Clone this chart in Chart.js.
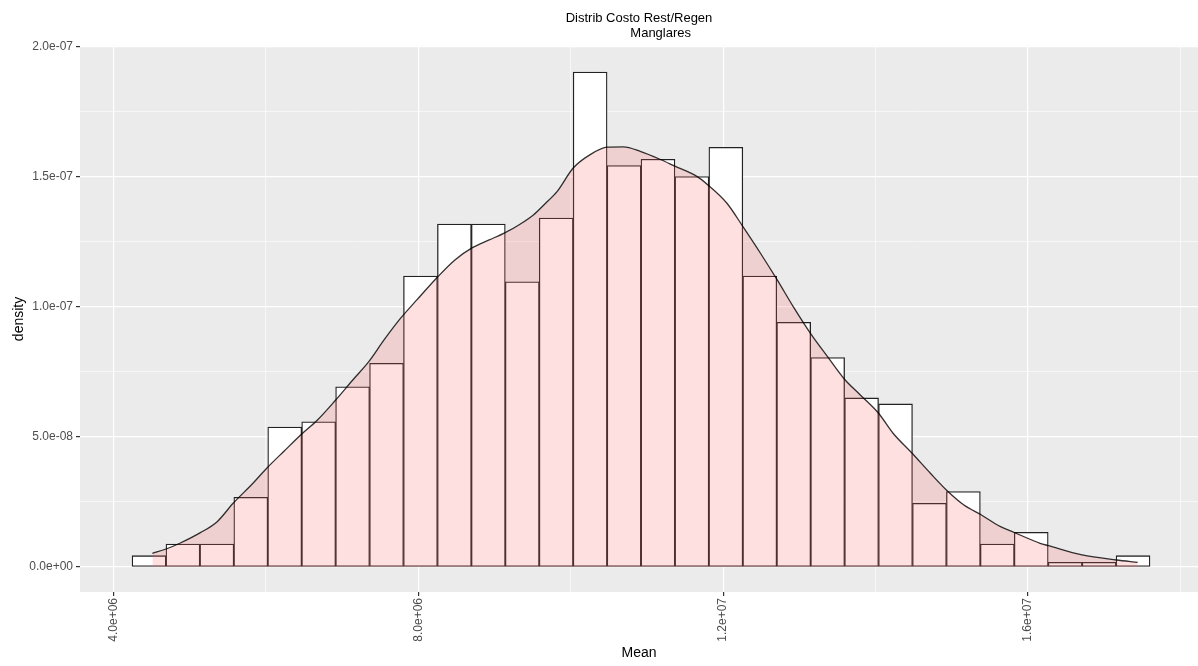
<!DOCTYPE html>
<html>
<head>
<meta charset="utf-8">
<script src="https://cdn.jsdelivr.net/npm/chart.js@4.4.0/dist/chart.umd.min.js"></script>
<style>
  html, body { margin: 0; padding: 0; background: #ffffff; }
  #contenedor { width: 1198px; height: 666px; }
</style>
</head>
<body>
<div id="contenedor"><canvas id="histograma"></canvas></div>
<script>
// Histograma (30 bins) + densidad de "Mean"
const binInicio = 4.243e6;
const binAncho = 0.4453e6;
const densidadBins = [
  4.35e-9, 8.85e-9, 8.85e-9, 2.68e-8, 5.38e-8, 5.58e-8, 6.93e-8, 7.83e-8,
  1.119e-7, 1.319e-7, 1.319e-7, 1.097e-7, 1.342e-7, 1.903e-7, 1.544e-7,
  1.568e-7, 1.501e-7, 1.614e-7, 1.119e-7, 9.41e-8, 8.05e-8, 6.5e-8,
  6.27e-8, 2.45e-8, 2.9e-8, 8.85e-9, 1.335e-8, 1.8e-9, 1.8e-9, 4.35e-9
];

// curva de densidad
const curvaX = [
  4.51e6, 4.69e6, 4.87e6, 5.14e6, 5.36e6, 5.57e6, 5.83e6, 6.01e6, 6.24e6, 6.47e6,
  6.67e6, 6.91e6, 7.14e6, 7.35e6, 7.55e6, 7.76e6, 7.98e6, 8.25e6, 8.48e6, 8.71e6,
  8.93e6, 9.14e6, 9.34e6, 9.51e6, 9.66e6, 9.82e6, 10.03e6, 10.25e6, 10.48e6, 10.69e6,
  10.92e6, 11.17e6, 11.36e6, 11.66e6, 11.80e6, 12.05e6, 12.26e6, 12.49e6, 12.71e6, 12.92e6,
  13.16e6, 13.37e6, 13.59e6, 13.80e6, 14.04e6, 14.23e6, 14.48e6, 14.72e6, 14.94e6, 15.16e6,
  15.39e6, 15.64e6, 15.82e6, 16.16e6, 16.27e6, 16.71e6, 17.16e6, 17.44e6
];
const curvaY = [
  0.527e-8, 0.692e-8, 0.912e-8, 1.319e-8, 1.742e-8, 2.45e-8, 3.219e-8, 3.796e-8, 4.461e-8, 5.115e-8,
  5.634e-8, 6.404e-8, 7.192e-8, 7.896e-8, 8.73e-8, 9.538e-8, 10.269e-8, 11.142e-8, 11.807e-8, 12.28e-8,
  12.576e-8, 12.857e-8, 13.192e-8, 13.538e-8, 13.961e-8, 14.434e-8, 15.334e-8, 15.846e-8, 16.142e-8, 16.153e-8,
  15.973e-8, 15.68e-8, 15.422e-8, 15.011e-8, 14.692e-8, 13.988e-8, 13.088e-8, 12.065e-8, 11.038e-8, 10.011e-8,
  8.923e-8, 8.088e-8, 7.23e-8, 6.615e-8, 5.911e-8, 5.142e-8, 4.373e-8, 3.604e-8, 2.934e-8, 2.385e-8,
  2.0e-8, 1.55e-8, 1.327e-8, 0.912e-8, 0.819e-8, 0.462e-8, 0.269e-8, 0.181e-8
];

const yTicksMayor = [0, 5e-8, 1e-7, 1.5e-7, 2e-7];
const yTickLabels = ["0.0e+00", "5.0e-08", "1.0e-07", "1.5e-07", "2.0e-07"];
const yTicksMenor = [2.5e-8, 7.5e-8, 1.25e-7, 1.75e-7];
const xTicksMayor = [4e6, 8e6, 1.2e7, 1.6e7];
const xTickLabels = ["4.0e+06", "8.0e+06", "1.2e+07", "1.6e+07"];
const xTicksMenor = [6e6, 1e7, 1.4e7, 1.8e7];

const fuente = '"Liberation Sans", Arial, sans-serif';

const fondoPanel = {
  id: "fondoPanel",
  beforeDraw(chart) {
    const { ctx, chartArea: a } = chart;
    ctx.save();
    ctx.fillStyle = "#EBEBEB";
    ctx.fillRect(a.left, a.top, a.right - a.left, a.bottom - a.top);
    ctx.restore();
  },
};

function ticksDe(mayor, menor) {
  return (scale) => {
    scale.ticks = mayor.concat(menor).sort((a, b) => a - b).map((v) => ({ value: v }));
  };
}

function esMayor(lista, ctx) {
  return ctx.tick && lista.indexOf(ctx.tick.value) >= 0;
}

const barras = densidadBins.map((d, i) => ({ x: binInicio + (i + 0.5) * binAncho, y: d }));
const curva = curvaX.map((x, i) => ({ x: x, y: curvaY[i] }));

new Chart(document.getElementById("histograma").getContext("2d"), {
  type: "bar",
  data: {
    datasets: [
      {
        type: "line",
        data: curva,
        fill: "origin",
        backgroundColor: "rgba(255,102,102,0.2)",
        borderColor: "rgba(0,0,0,0.8)",
        borderWidth: 1.3,
        pointRadius: 0,
        cubicInterpolationMode: "monotone",
        order: 1,
      },
      {
        type: "bar",
        data: barras,
        backgroundColor: "#FFFFFF",
        borderColor: "#222222",
        borderWidth: 1.3,
        borderSkipped: false,
        barPercentage: 1,
        categoryPercentage: 1,
        order: 2,
      },
    ],
  },
  options: {
    responsive: true,
    maintainAspectRatio: false,
    animation: false,
    layout: { padding: 0 },
    plugins: {
      legend: { display: false },
      tooltip: { enabled: false },
      title: {
        display: true,
        fullSize: false,
        text: ["Distrib Costo Rest/Regen", "            Manglares"],
        color: "#000000",
        font: { family: fuente, size: 13, weight: "normal", lineHeight: 1.15 },
        padding: { top: 11, bottom: 5 },
      },
    },
    scales: {
      x: {
        type: "linear",
        min: 3.56e6,
        max: 18.232e6,
        offset: false,
        afterBuildTicks: ticksDe(xTicksMayor, xTicksMenor),
        afterFit: (s) => { s.height = 74; },
        grid: {
          offset: false,
          color: "#FFFFFF",
          lineWidth: (ctx) => (esMayor(xTicksMayor, ctx) ? 1.2 : 0.6),
          tickColor: (ctx) => (esMayor(xTicksMayor, ctx) ? "#333333" : "rgba(0,0,0,0)"),
          tickLength: 4,
        },
        border: { display: false },
        ticks: {
          autoSkip: false,
          minRotation: 90,
          maxRotation: 90,
          padding: 2,
          color: "#4D4D4D",
          font: { family: fuente, size: 12 },
          callback: (v) => {
            const i = xTicksMayor.indexOf(v);
            return i >= 0 ? xTickLabels[i] : "";
          },
        },
        title: {
          display: true,
          text: "Mean",
          color: "#000000",
          font: { family: fuente, size: 14 },
          padding: { top: 4, bottom: 4 },
        },
      },
      y: {
        type: "linear",
        min: -9.62e-9,
        max: 2.0038e-7,
        afterBuildTicks: ticksDe(yTicksMayor, yTicksMenor),
        afterFit: (s) => { s.width = 80; },
        grid: {
          color: "#FFFFFF",
          lineWidth: (ctx) => (esMayor(yTicksMayor, ctx) ? 1.2 : 0.6),
          tickColor: (ctx) => (esMayor(yTicksMayor, ctx) ? "#333333" : "rgba(0,0,0,0)"),
          tickLength: 4,
        },
        border: { display: false },
        ticks: {
          autoSkip: false,
          padding: 3,
          color: "#4D4D4D",
          font: { family: fuente, size: 12 },
          callback: (v) => {
            const i = yTicksMayor.indexOf(v);
            return i >= 0 ? yTickLabels[i] : "";
          },
        },
        title: {
          display: true,
          text: "density",
          color: "#000000",
          font: { family: fuente, size: 14 },
          padding: { top: 11, bottom: 0 },
        },
      },
    },
  },
  plugins: [fondoPanel],
});
</script>
</body>
</html>
